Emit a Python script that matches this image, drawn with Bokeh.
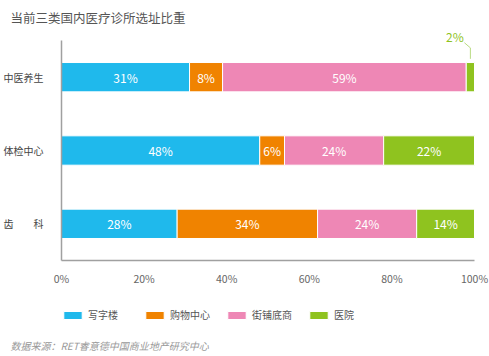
from bokeh.plotting import figure
from bokeh.models import (ColumnDataSource, Range1d, FixedTicker, PrintfTickFormatter,
                          Legend, LegendItem, Title)
from bokeh.core.properties import value
from bokeh.embed import file_html
from bokeh.resources import INLINE

# ---- data ----
categories = ["中医养生", "体检中心", "齿　　科"]
series = ["写字楼", "购物中心", "街铺底商", "医院"]
office = [31, 48, 28]
mall = [8, 6, 34]
street = [59, 24, 24]
hospital = [2, 22, 14]
x_ticks = [0, 20, 40, 60, 80, 100]
colors = ["#1FB9EC", "#F08300", "#EE87B5", "#8FC31F"]

FONT = "Noto Sans CJK SC"
ypos = [3, 2, 1]
all_vals = [office, mall, street, hospital]

data = dict(y=ypos, cat=categories)
for s, vals in zip(series, all_vals):
    data[s] = vals
src = ColumnDataSource(data)

p = figure(width=489, height=356, x_range=Range1d(-14.77, 103.63),
           y_range=Range1d(-0.523, 3.664),
           output_backend="svg", toolbar_location=None,
           min_border_left=0, min_border_right=0, min_border_top=28, min_border_bottom=21)
p.outline_line_color = None
p.xgrid.visible = False
p.ygrid.visible = False

# title
p.title.text = "当前三类国内医疗诊所选址比重"
p.title.text_font = FONT
p.title.text_font_size = "12.5px"
p.title.text_font_style = "normal"
p.title.text_color = "#555555"
p.title.align = "left"
p.title.offset = 10
p.title.standoff = 4

# bars
renderers = p.hbar_stack(series, y="y", height=0.4, color=colors, line_color="white",
                         line_width=1, source=src)

# in-bar labels and callouts for small segments
lx, ly, lt = [], [], []
cx, cy, ct = [], [], []
for i in range(len(categories)):
    left = 0
    for vals in all_vals:
        v = vals[i]
        if v >= 5:
            lx.append(left + v / 2)
            ly.append(ypos[i])
            lt.append(f"{v}%")
        else:
            cx.append(left + v / 2)
            cy.append(ypos[i])
            ct.append(f"{v}%")
        left += v

p.text(x=lx, y=ly, text=lt, text_color="white", text_font=value(FONT),
       text_font_size="12px", text_align="center", text_baseline="middle")

for xm, yc, t in zip(cx, cy, ct):
    p.line(x=[xm, xm, xm - 1.45], y=[yc + 0.25, yc + 0.4, yc + 0.47],
           line_color="#B9DB82", line_width=1)
    p.text(x=[xm - 3.75], y=[yc + 0.56], text=[t], text_color="#8FC31F",
           text_font=value(FONT), text_font_size="12px", text_align="center",
           text_baseline="middle")

# axes (drawn inside the frame at fixed data locations)
p.xaxis.fixed_location = 0.5
p.xaxis.bounds = (0, 100)
p.xaxis.ticker = FixedTicker(ticks=x_ticks)
p.xaxis.formatter = PrintfTickFormatter(format="%d%%")
p.xaxis.major_tick_line_color = None
p.xaxis.minor_tick_line_color = None
p.xaxis.axis_line_color = "#A0A0A0"
p.xaxis.axis_line_width = 1.5
p.xaxis.major_label_standoff = 5
p.xaxis.major_label_text_font = FONT
p.xaxis.major_label_text_font_size = "10.5px"
p.xaxis.major_label_text_color = "#666666"

p.yaxis.fixed_location = 0
p.yaxis.ticker = FixedTicker(ticks=ypos)
p.yaxis.major_label_overrides = {y: c for y, c in zip(ypos, categories)}
p.yaxis.bounds = (0.5, 3.5)
p.yaxis.major_tick_line_color = None
p.yaxis.minor_tick_line_color = None
p.yaxis.axis_line_color = "#A0A0A0"
p.yaxis.axis_line_width = 1.5
p.yaxis.major_label_standoff = 12
p.yaxis.major_label_text_font = FONT
p.yaxis.major_label_text_font_size = "10px"
p.yaxis.major_label_text_color = "#444444"

# legend (inside the frame, under the axis)
items = [LegendItem(label=s, renderers=[r]) for s, r in zip(series, renderers)]
legend = Legend(items=items, location=(61, 13), orientation="horizontal",
                glyph_width=23, glyph_height=10, label_width=50, label_height=14,
                label_standoff=4, spacing=5, padding=0, margin=0,
                border_line_color=None, background_fill_alpha=0,
                label_text_font=FONT, label_text_font_size="10px",
                label_text_color="#555555")
p.add_layout(legend)

# source note
note = Title(text="数据来源：RET睿意德中国商业地产研究中心", align="left", offset=10,
             standoff=0, text_font=FONT, text_font_size="10px",
             text_font_style="italic", text_color="#999999")
p.add_layout(note, "below")

open("out.html", "w").write(file_html(p, INLINE))
